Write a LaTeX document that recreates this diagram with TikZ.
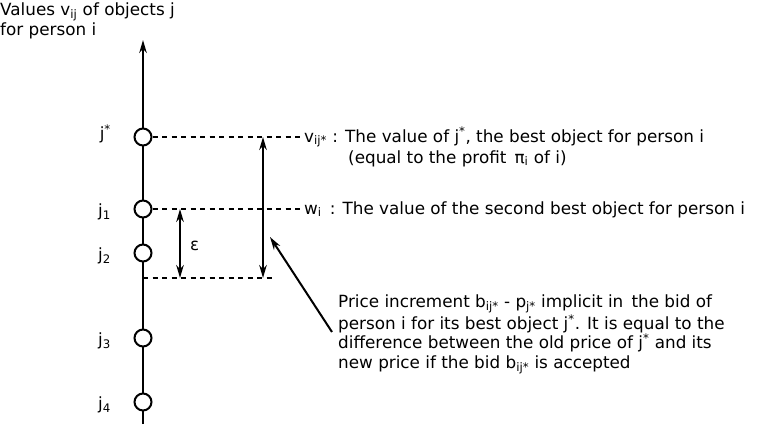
\documentclass[tikz,border=0pt]{standalone}
\usepackage{fontspec}
\setmainfont{DejaVu Sans}
\usetikzlibrary{arrows.meta}

\begin{document}
\begin{tikzpicture}[
    x=1pt, y=-1pt,
    obj/.style={draw, circle, line width=2pt, minimum size=17pt, inner sep=0pt, fill=white},
    lbl/.style={font=\fontsize{16.8}{19.5}\selectfont, inner sep=0pt, text=black},
    arr/.style={->, >={Stealth[length=13pt, width=7.5pt]}, line width=2pt, black},
    guide/.style={line width=1.5pt, dash pattern=on 5pt off 4.5pt},
]
\useasboundingbox (0,0) rectangle (758,424);

% value axis
\coordinate (top) at (143,40);
\coordinate (bot) at (143,424);
\draw[arr] (bot) -- (top);
\node[lbl, anchor=north west, align=left] (title) at (0,3) {Values v\textsubscript{ij} of objects j\\for person i};

% objects on the axis
\node[obj] (js) at (143,137) {};
\node[obj] (j1) at (143,209) {};
\node[obj] (j2) at (143,253) {};
\node[obj] (j3) at (143,338) {};
\node[obj] (j4) at (143,402) {};
\node[lbl, anchor=east] (ljs) at (111,134) {j\textsuperscript{*}};
\node[lbl, anchor=east] (lj1) at (111,212) {j\textsubscript{1}};
\node[lbl, anchor=east] (lj2) at (111,256) {j\textsubscript{2}};
\node[lbl, anchor=east] (lj3) at (111,341) {j\textsubscript{3}};
\node[lbl, anchor=east] (lj4) at (111,405) {j\textsubscript{4}};

% best and second best values
\node[lbl, anchor=base west] (vbest) at (304,142) {v\textsubscript{ij*} : The value of j\textsuperscript{*}, the best object for person i};
\node[lbl, anchor=base west] (vbest2) at (348,163) {(equal to the profit \,π\textsubscript{i} of i)};
\node[lbl, anchor=base west] (wsec) at (304,214) {w\textsubscript{i} \,: The value of the second best object for person i};
\draw[guide] (js.east) -- (js -| vbest.west);
\draw[guide] (j1.east) -- (j1 -| wsec.west);
\coordinate (bl) at (143,278);
\coordinate (br) at (276,278);
\draw[guide] (bl) -- (br);

% epsilon and price increment
\coordinate (e1) at (180,209);
\coordinate (e2) at (180,278);
\draw[arr, <->] (e1) -- (e2);
\node[lbl, anchor=west] (eps) at (190,246) {ε};
\coordinate (p1) at (263,137);
\coordinate (p2) at (263,278);
\draw[arr, <->] (p1) -- (p2);
\node[lbl, anchor=north west, align=left] (note) at (338,295) {Price increment b\textsubscript{ij*} - p\textsubscript{j*} implicit in \,the bid of\\person i for its best object j\textsuperscript{*}. It is equal to the\\difference between the old price of j\textsuperscript{*} and its\\new price if the bid b\textsubscript{ij*} is accepted};
\coordinate (ptail) at (332,332);
\coordinate (ptip) at (270,237);
\draw[arr] (ptail) -- (ptip);
\end{tikzpicture}
\end{document}
